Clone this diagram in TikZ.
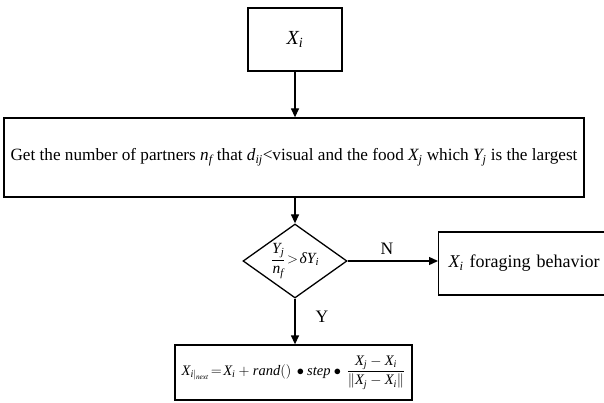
\documentclass[tikz,border=0pt]{standalone}
\usepackage{amsmath}
\usepackage{fontspec}
\setmainfont{Liberation Serif}
\usetikzlibrary{shapes.geometric,arrows.meta}
\newcommand{\iv}[1]{\text{\itshape #1}}
\begin{document}
\begin{tikzpicture}[x=1pt,y=1pt,
  every node/.style={font=\fontsize{17.5}{20}\selectfont},
  boxnode/.style={draw, line width=1.3pt, inner sep=0pt},
  conn/.style={line width=1.3pt, -{Triangle[length=9pt,width=8pt]}},
  lbl/.style={inner sep=0pt}]
\useasboundingbox (0,0) rectangle (604,-403);
\node[boxnode, minimum width=94, minimum height=63, font=\fontsize{20}{24}\selectfont] (a) at (295,-39.5) {$\iv{X}_{\iv{i}}$};
\node[boxnode, minimum width=580, minimum height=79, font=\fontsize{17.2}{20}\selectfont] (b) at (294,-157.5)
  {Get the number of partners $\iv{n}_{\iv{f}}$ that $\iv{d}_{\iv{ij}}$<visual and the food $\iv{X}_{\iv{j}}$ which $\iv{Y}_{\iv{j}}$ is the largest};
\node[boxnode, diamond, minimum width=104, minimum height=74] (c) at (295,-261) {};
\node[lbl, font=\fontsize{15.5}{18}\selectfont] at (c) {$\dfrac{\iv{Y}_{\iv{j}}}{\iv{n}_{\iv{f}}}\!>\! \iv{δ}\iv{Y}_{\iv{i}}$};
\node[boxnode, minimum width=190, minimum height=63, anchor=west, align=left, text width=180, font=\fontsize{18}{22}\selectfont] (r) at (438,-263.5)
  {\hspace*{5pt}$\iv{X}_{\iv{i}}$ foraging behavior};
\node[boxnode, minimum width=237, minimum height=55, font=\fontsize{14.5}{17}\selectfont] (e) at (293.5,-372.5)
  {$\iv{X}_{\iv{i}|_{\iv{next}}}\!=\!\iv{X}_{\iv{i}} + \iv{rand}()\,\bullet\iv{step}\bullet\, \dfrac{\iv{X}_{\iv{j}}-\iv{X}_{\iv{i}}}{\left\|\iv{X}_{\iv{j}}-\iv{X}_{\iv{i}}\right\|}$};
\draw[conn] (a.south) -- (b.north -| a.south);
\draw[conn] (b.south -| c.north) -- (c.north);
\draw[conn] (c.east) -- (c.east -| r.west);
\draw[conn] (c.south) -- (e.north -| c.south);
\node[lbl] (n) at (387,-249) {N};
\node[lbl] (y) at (322,-317) {Y};
\end{tikzpicture}
\end{document}
